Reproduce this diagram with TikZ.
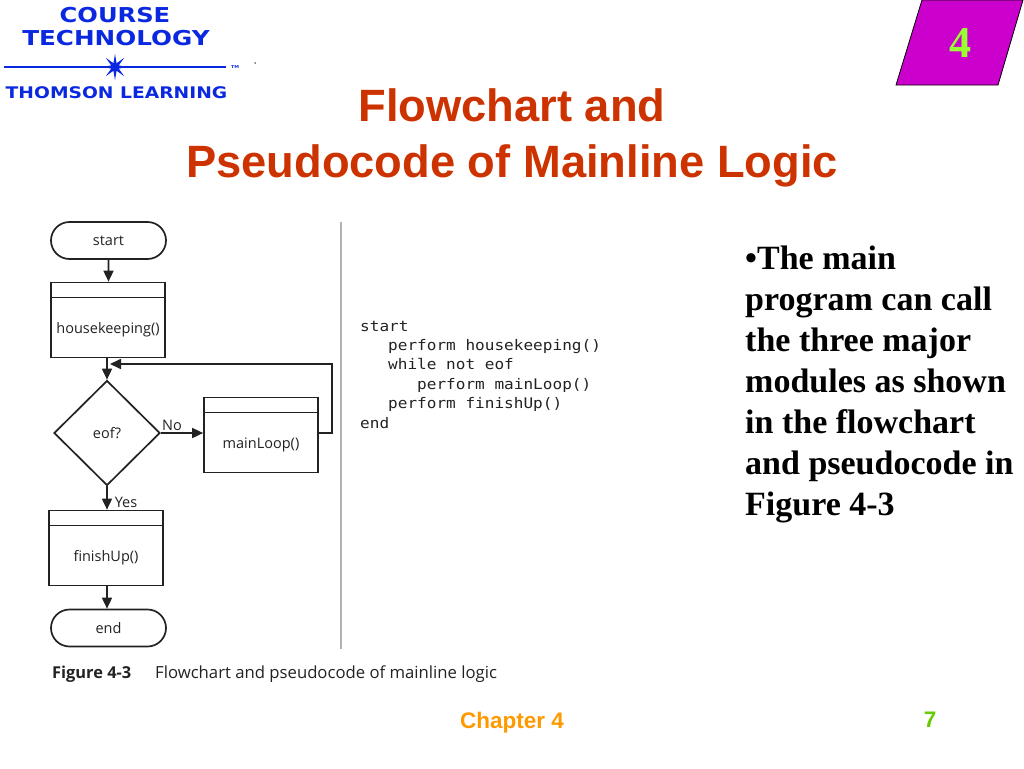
\documentclass[tikz,border=0pt]{standalone}
\usepackage{xcolor}
\usepackage{fontspec}
\setmainfont{Liberation Serif}
\setsansfont{Liberation Sans}
\setmonofont{DejaVu Sans Mono}
\newfontfamily\chartfont{Open Sans}
\newfontfamily\logofont{DejaVu Sans}
\usetikzlibrary{arrows.meta,shapes.geometric,shapes.misc}
\definecolor{titlered}{HTML}{CC3300}
\definecolor{footorange}{HTML}{FF9900}
\definecolor{footgreen}{HTML}{66CC00}
\definecolor{tabpurple}{HTML}{CC00CC}
\definecolor{tabgreen}{HTML}{99FF33}
\definecolor{logoblue}{HTML}{0A28E0}
\definecolor{chartink}{HTML}{222222}

\begin{document}
\begin{tikzpicture}[
			x=1pt, y=-1pt,
			>={Stealth[length=11pt,width=10pt,inset=0pt]},
			flowline/.style={draw=chartink, line width=1.7pt},
			chartlabel/.style={font=\chartfont\fontsize{14.5}{17}\selectfont, text=chartink, inner sep=0pt},
			terminal/.style={rounded rectangle, draw=chartink, line width=1.7pt, minimum width=115pt, minimum height=37pt, inner sep=0pt, chartlabel},
			decision/.style={diamond, aspect=1, draw=chartink, line width=1.7pt, minimum width=106pt, minimum height=105pt, inner sep=0pt, chartlabel},
			module/.style={rectangle, draw=chartink, line width=1.7pt, minimum width=114pt, minimum height=75pt, inner sep=0pt,
				path picture={\draw[chartink, line width=1.7pt] ([yshift=-15pt]path picture bounding box.north west) -- ([yshift=-15pt]path picture bounding box.north east);},
				label={[chartlabel, yshift=-9.5pt]center:#1}},
			codeline/.style={anchor=base west, inner sep=0pt, text=chartink, xscale=1.1, transform shape, font=\ttfamily\fontsize{14.6}{17}\selectfont},
			logotext/.style={text=logoblue, inner sep=0pt, xscale=1.18, transform shape, font=\logofont\bfseries}
			]
			\useasboundingbox (0,0) rectangle (1024,768);
			
			% logo
			\node[logotext, font=\logofont\bfseries\fontsize{20.5}{23}\selectfont] (course) at (115,15) {COURSE};
			\node[logotext, xscale=1.02, font=\logofont\bfseries\fontsize{20.5}{23}\selectfont] (technology) at (116,38) {TECHNOLOGY};
			\node[star, star points=8, star point ratio=3.2, fill=logoblue, minimum size=26pt, inner sep=0pt] (logostar) at (115,67) {};
			\coordinate (logoleft) at (4,67);
			\coordinate (logoright) at (226,67);
			\draw[logoblue, line width=1.3pt] (logoleft) -- (logostar.center) -- (logoright);
			\node[logotext, font=\logofont\bfseries\fontsize{4}{5}\selectfont] (tm) at (235,67) {TM};
			\node[circle, fill=black, minimum size=1.5pt, inner sep=0pt] (logodot) at (255,63) {};
			\node[logotext, xscale=0.99, font=\logofont\bfseries\fontsize{16}{19}\selectfont] (thomson) at (116.5,93) {THOMSON LEARNING};
			
			% chapter tab
			\path[fill=tabpurple, draw=black, line width=0.8pt] (922,0) -- (1023,0) -- (998,85) -- (896,85) -- cycle;
			\node[text=tabgreen, inner sep=0pt, font=\bfseries\fontsize{44}{50}\selectfont] (tabnum) at (960,43) {4};
			
			% title
			\node[text=titlered, align=center, inner sep=0pt, font=\sffamily\bfseries\fontsize{45.3}{56}\selectfont] (title) at (512,137.5) {Flowchart and\\Pseudocode of Mainline Logic};
			
			% flowchart
			\node[terminal] (start) at (108.5,240.5) {start};
			\node[module=housekeeping()] (housekeeping) at (108,320) {};
			\node[decision] (eof) at (107,433) {eof?};
			\node[module=mainLoop()] (mainLoop) at (261,435) {};
			\node[module=finishUp()] (finishUp) at (106,548) {};
			\node[terminal] (end) at (108.5,628) {end};
			\coordinate (loopjoin) at (110,364);
			\node[chartlabel] (no) at (172,425) {No};
			\node[chartlabel] (yes) at (126,502) {Yes};
			
			\draw[flowline,->] (start) -- (start |- housekeeping.north);
			\draw[flowline,->] (housekeeping.south -| eof.north) -- (eof.north);
			\draw[flowline,->] (eof.east) -- (eof.east -| mainLoop.west);
			\draw[flowline,->] (eof.east -| mainLoop.east) -- ++(13,0) |- (loopjoin);
			\draw[flowline,->] (eof.south) -- (eof.south |- finishUp.north);
			\draw[flowline,->] (finishUp.south -| eof.south) -- (eof.south |- end.north);
			
			% divider
			\coordinate (dividertop) at (341,222);
			\coordinate (dividerbot) at (341,649);
			\draw[black!30, line width=1.2pt] (dividertop) -- (dividerbot);
			
			% pseudocode
			\node[codeline] (code1) at (360,331) {start};
			\node[codeline] (code2) at (388,350) {perform housekeeping()};
			\node[codeline] (code3) at (388,369.5) {while not eof};
			\node[codeline] (code4) at (417,389) {perform mainLoop()};
			\node[codeline] (code5) at (388,408.5) {perform finishUp()};
			\node[codeline] (code6) at (360,428) {end};
			
			% caption
			\node[anchor=base west, inner sep=0pt, text=chartink, font=\chartfont\bfseries\fontsize{16.4}{19}\selectfont] (figno) at (52,678) {Figure 4-3};
			\node[anchor=base west, inner sep=0pt, text=chartink, font=\chartfont\fontsize{16.7}{19}\selectfont] (figcap) at (155,678) {Flowchart and pseudocode of mainline logic};
			
			% bullet text
			\node[anchor=north west, align=left, inner sep=0pt, font=\bfseries\fontsize{34}{41}\selectfont] (bullet) at (745,246) {\textbullet The main\\program can call\\the three major\\modules as shown\\in the flowchart\\and pseudocode in\\Figure 4-3};
			
			% footer
			\node[text=footorange, inner sep=0pt, font=\sffamily\bfseries\fontsize{22.5}{26}\selectfont] (chapter) at (512,722.5) {Chapter 4};
			\node[text=footgreen, inner sep=0pt, font=\sffamily\bfseries\fontsize{22.5}{26}\selectfont] (pageno) at (930,720) {7};
		\end{tikzpicture}
\end{document}
